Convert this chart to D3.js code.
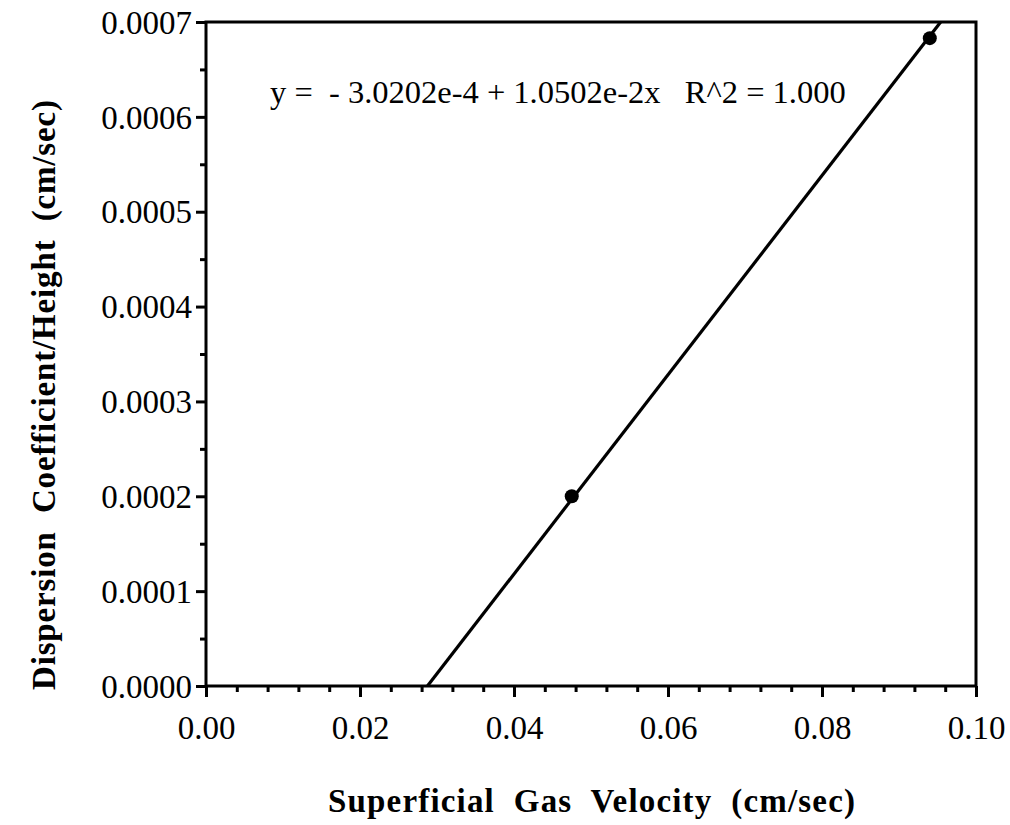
<!DOCTYPE html>
<html><head><meta charset="utf-8">
<script src="https://cdn.jsdelivr.net/npm/d3@7"></script>
<style>
body{margin:0;background:#fff;}
text{white-space:pre;}
</style></head>
<body><svg id="c" width="1010" height="825"></svg>
<script>
const xValues = [0.0475, 0.0940];
const yValues = [0.000200, 0.000683];
const fitIntercept = -3.0202e-4;
const fitSlope = 1.0502e-2;
const xTicks = [0.00, 0.02, 0.04, 0.06, 0.08, 0.10];
const yTicks = [0.0000, 0.0001, 0.0002, 0.0003, 0.0004, 0.0005, 0.0006, 0.0007];
const equationText = "y =  - 3.0202e-4 + 1.0502e-2x   R^2 = 1.000";
const xTitle = "Superficial  Gas  Velocity  (cm/sec)";
const yTitle = "Dispersion  Coefficient/Height  (cm/sec)";

const FONT = "Liberation Serif";
const svg = d3.select("#c");
const L=206, R=976, T=22, B=686;
const x = d3.scaleLinear().domain([0,0.1]).range([L,R]);
const y = d3.scaleLinear().domain([0,0.0007]).range([B,T]);

const xMinor = d3.range(0, 0.1001, 0.004).filter(v => Math.abs(v/0.02 - Math.round(v/0.02))>1e-6);
const yMinor = d3.range(0.00005, 0.0007, 0.0001);

const gx = svg.append("g").attr("transform",`translate(0,${B})`)
  .call(d3.axisBottom(x).tickValues(xTicks).tickFormat(d3.format(".2f")).tickSize(11).tickPadding(22));
gx.select(".domain").remove();
gx.selectAll("line").attr("stroke","#000").attr("stroke-width",3);
gx.selectAll("text").attr("font-size",33).attr("font-family",FONT).attr("fill","#000").attr("dy","0.62em");
const gxm = svg.append("g").attr("transform",`translate(0,${B})`)
  .call(d3.axisBottom(x).tickValues(xMinor).tickFormat("").tickSize(6));
gxm.select(".domain").remove();
gxm.selectAll("line").attr("stroke","#000").attr("stroke-width",3);

const gy = svg.append("g").attr("transform",`translate(${L},0)`)
  .call(d3.axisLeft(y).tickValues(yTicks).tickFormat(d3.format(".4f")).tickSize(10).tickPadding(4));
gy.select(".domain").remove();
gy.selectAll("line").attr("stroke","#000").attr("stroke-width",3);
gy.selectAll("text").attr("font-size",33).attr("font-family",FONT).attr("fill","#000").attr("dy","0.34em");
const gym = svg.append("g").attr("transform",`translate(${L},0)`)
  .call(d3.axisLeft(y).tickValues(yMinor).tickFormat("").tickSize(6));
gym.select(".domain").remove();
gym.selectAll("line").attr("stroke","#000").attr("stroke-width",3);

svg.append("rect").attr("x",L).attr("y",T).attr("width",R-L).attr("height",B-T)
  .attr("fill","none").attr("stroke","#000").attr("stroke-width",3);

const yMax = y.domain()[1];
const x0 = (0 - fitIntercept)/fitSlope, x1 = (yMax - fitIntercept)/fitSlope;
svg.append("line").attr("x1",x(x0)).attr("y1",y(0)).attr("x2",x(x1)).attr("y2",y(yMax))
  .attr("stroke","#000").attr("stroke-width",3.2);

svg.selectAll("circle.pt").data(xValues).join("circle").attr("class","pt")
  .attr("cx",(d)=>x(d)).attr("cy",(d,i)=>y(yValues[i])).attr("r",7).attr("fill","#000");

svg.append("text").attr("x",270).attr("y",103).attr("font-family",FONT).attr("font-size",32.5)
  .attr("fill","#000").text(equationText);

svg.append("text").attr("x",328).attr("y",812)
  .attr("font-family",FONT).attr("font-size",33).attr("font-weight","bold").attr("fill","#000")
  .attr("textLength",527).attr("lengthAdjust","spacing").text(xTitle);
svg.append("text").attr("transform",`translate(55,690) rotate(-90)`)
  .attr("font-family",FONT).attr("font-size",33).attr("font-weight","bold").attr("fill","#000")
  .attr("textLength",590).attr("lengthAdjust","spacing").text(yTitle);
</script></body></html>
